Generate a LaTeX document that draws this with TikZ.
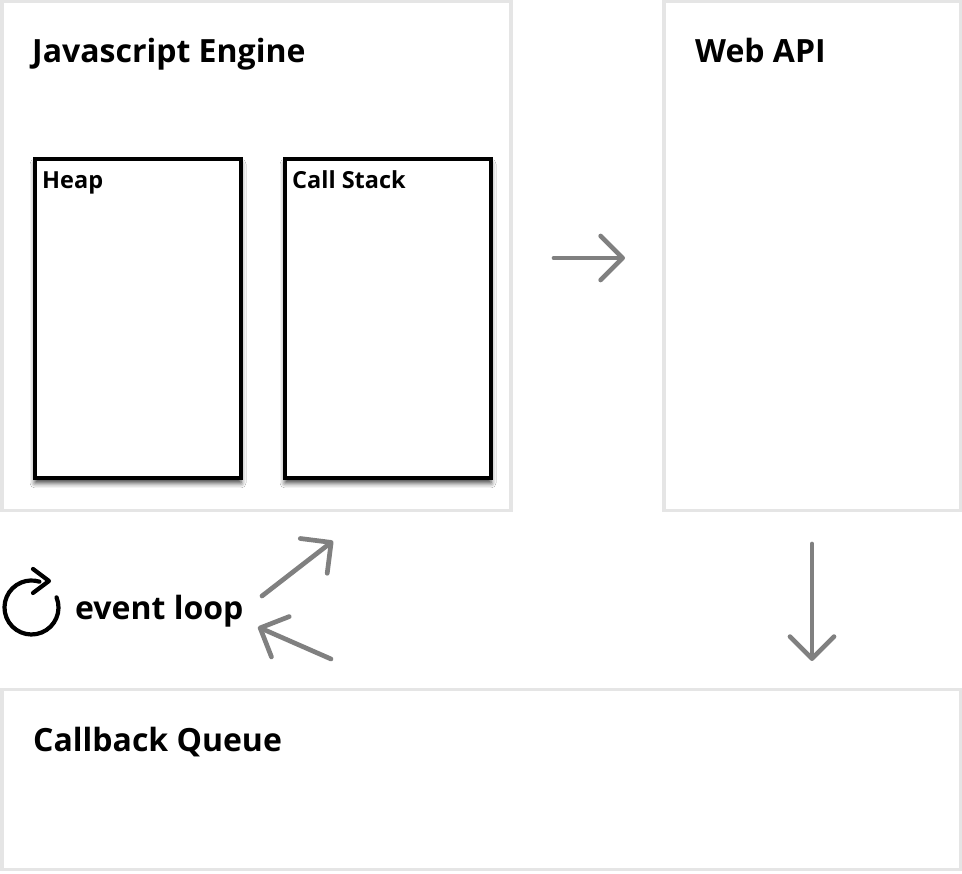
\documentclass[tikz,border=0pt]{standalone}
\usepackage{fontspec}
\setmainfont{Open Sans}
\usetikzlibrary{arrows.meta,shadows.blur}
\definecolor{boxgray}{HTML}{E5E5E5}
\definecolor{flowgray}{HTML}{808080}
\begin{document}
\begin{tikzpicture}[x=1pt,y=1pt,
  outer/.style={draw=boxgray, line width=3.5pt, anchor=north west, inner sep=0pt, outer sep=0pt},
  innerbox/.style={draw=black, line width=4pt, fill=white, anchor=north west, inner sep=0pt, outer sep=0pt,
    blur shadow={shadow xshift=0pt, shadow yshift=-5pt, shadow blur radius=5pt, shadow opacity=75}},
  ttl/.style={font=\bfseries\fontsize{32}{38}\selectfont, anchor=base west, inner sep=0pt},
  sub/.style={font=\bfseries\fontsize{23.5}{28}\selectfont, anchor=base west, inner sep=0pt},
  flow/.style={draw=flowgray, line width=4.7pt, line cap=round,
    -{Straight Barb[length=22pt,width=44pt,round]}},
  icon/.style={draw=black, line width=4.2pt, line cap=round, line join=round}
]
\useasboundingbox (0,0) rectangle (962,874);
\fill[white] (0,0) rectangle (962,874);

% outer containers
\node[outer, minimum width=509pt, minimum height=509pt] (engine) at (1.75,872.25) {};
\node[outer, minimum width=296.5pt, minimum height=509pt] (webapi) at (663.75,872.25) {};
\node[outer, minimum width=958.5pt, minimum height=180pt] (queue) at (1.75,184.25) {};

% inner boxes
\node[innerbox, minimum width=206pt, minimum height=319pt] (heap) at (35,715) {};
\node[innerbox, minimum width=206pt, minimum height=319pt] (stack) at (285,715) {};

% titles
\node[ttl] (tEngine) at (32,811.7) {Javascript Engine};
\node[ttl] (tWeb) at (695,811.7) {Web API};
\node[ttl] (tQueue) at (33,122) {Callback Queue};
\node[sub] (tHeap) at (42,685.7) {Heap};
\node[sub] (tStack) at (292,685.7) {Call Stack};
\node[ttl] (tLoop) at (75,254) {event loop};

% event loop icon
\coordinate (iconC) at (31.5,266.5);
\draw[icon] (iconC) ++(22:27) arc[start angle=22, end angle=-287, radius=27];
\coordinate (tipA) at (33,305);
\coordinate (tipB) at (49,293);
\coordinate (tipC) at (33,281);
\draw[icon] (tipA) -- (tipB) -- (tipC);

% flow arrows
\coordinate (a1s) at (554,616); \coordinate (a1e) at (625,616);
\coordinate (a2s) at (812,330); \coordinate (a2e) at (812,213);
\coordinate (a3s) at (262,278); \coordinate (a3e) at (333,333);
\coordinate (a4s) at (331,215); \coordinate (a4e) at (258,247);
\draw[flow] (a1s) -- (a1e);
\draw[flow] (a2s) -- (a2e);
\draw[flow] (a3s) -- (a3e);
\draw[flow] (a4s) -- (a4e);
\end{tikzpicture}
\end{document}
